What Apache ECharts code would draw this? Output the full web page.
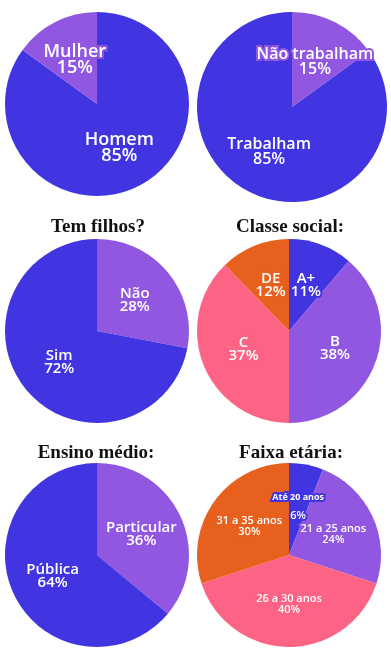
<!DOCTYPE html>
<html>
<head>
<meta charset="utf-8">
<script src="https://cdn.jsdelivr.net/npm/echarts@6/dist/echarts.min.js"></script>
<style>
html,body{margin:0;padding:0;background:#fff;}
#chart{width:391px;height:654px;}
</style>
</head>
<body>
<div id="chart"></div>
<script>
// ---- data ----
const sexoCats = ['Homem', 'Mulher'];
const sexoVals = [85, 15];
const trabalhoCats = ['Não trabalham', 'Trabalham'];
const trabalhoVals = [15, 85];
const filhosCats = ['Não', 'Sim'];
const filhosVals = [28, 72];
const classeCats = ['A+', 'B', 'C', 'DE'];
const classeVals = [11, 38, 37, 12];
const ensinoCats = ['Particular', 'Pública'];
const ensinoVals = [36, 64];
const faixaCats = ['Até 20 anos', '21 a 25 anos', '26 a 30 anos', '31 a 35 anos'];
const faixaVals = [6, 24, 40, 30];
const titles = ['Tem filhos?', 'Classe social:', 'Ensino médio:', 'Faixa etária:'];

// ---- styles ----
const BLUE = '#4134E1', PURPLE = '#9157E1', PINK = '#FD6384', ORANGE = '#E8601E';
const FONT = '"Open Sans", "Noto Sans", sans-serif';

function makeData(cats, vals, colors) {
  return cats.map((c, i) => ({
    name: c,
    value: vals[i],
    itemStyle: { color: colors[i] },
    label: { textBorderColor: colors[i] }
  }));
}

function pie(cats, vals, colors, center, radius, fontSize, lineHeight) {
  return {
    type: 'pie',
    center: center,
    radius: radius,
    startAngle: 90,
    clockwise: true,
    silent: true,
    animation: false,
    avoidLabelOverlap: false,
    minShowLabelAngle: 0,
    labelLayout: { hideOverlap: false },
    labelLine: { show: false },
    label: {
      show: true,
      position: 'inside',
      formatter: '{b}\n{c}%',
      color: '#fff',
      fontFamily: FONT,
      fontSize: fontSize,
      fontWeight: 600,
      lineHeight: lineHeight,
      textBorderWidth: 4
    },
    data: makeData(cats, vals, colors)
  };
}

const faixaSeries = pie(faixaCats, faixaVals, [BLUE, PURPLE, PINK, ORANGE], [289, 555], 92, 11, 11);
faixaSeries.data[0].label = {
  show: true,
  position: 'inside',
  formatter: '{a|{b}}\n{p|{c}%}',
  rich: {
    a: { fontSize: 9, fontWeight: 'bold', fontFamily: FONT, color: '#fff', lineHeight: 18, textBorderColor: BLUE, textBorderWidth: 4 },
    p: { fontSize: 11, fontWeight: 600, fontFamily: FONT, color: '#fff', lineHeight: 18, textBorderColor: BLUE, textBorderWidth: 4 }
  }
};

const titlePos = [[98, 218], [290, 218], [96, 444], [291, 444]];

const option = {
  backgroundColor: '#fff',
  animation: false,
  title: titles.map((t, i) => ({
    text: t,
    left: titlePos[i][0],
    top: titlePos[i][1],
    textAlign: 'center',
    padding: 0,
    textStyle: { fontFamily: '"Liberation Serif", serif', fontWeight: 'bold', fontSize: 19, color: '#111' }
  })),
  series: [
    pie(sexoCats, sexoVals, [BLUE, PURPLE], [97, 104], 92, 18, 16),
    pie(trabalhoCats, trabalhoVals, [PURPLE, BLUE], [292, 107], 95, 16, 15),
    pie(filhosCats, filhosVals, [PURPLE, BLUE], [97, 331], 92, 15, 13),
    pie(classeCats, classeVals, [BLUE, PURPLE, PINK, ORANGE], [289, 331], 92, 15, 13),
    pie(ensinoCats, ensinoVals, [PURPLE, BLUE], [97, 555], 92, 15, 13),
    faixaSeries
  ]
};

const chart = echarts.init(document.getElementById('chart'), null, { renderer: 'canvas' });
chart.setOption(option);
</script>
</body>
</html>
